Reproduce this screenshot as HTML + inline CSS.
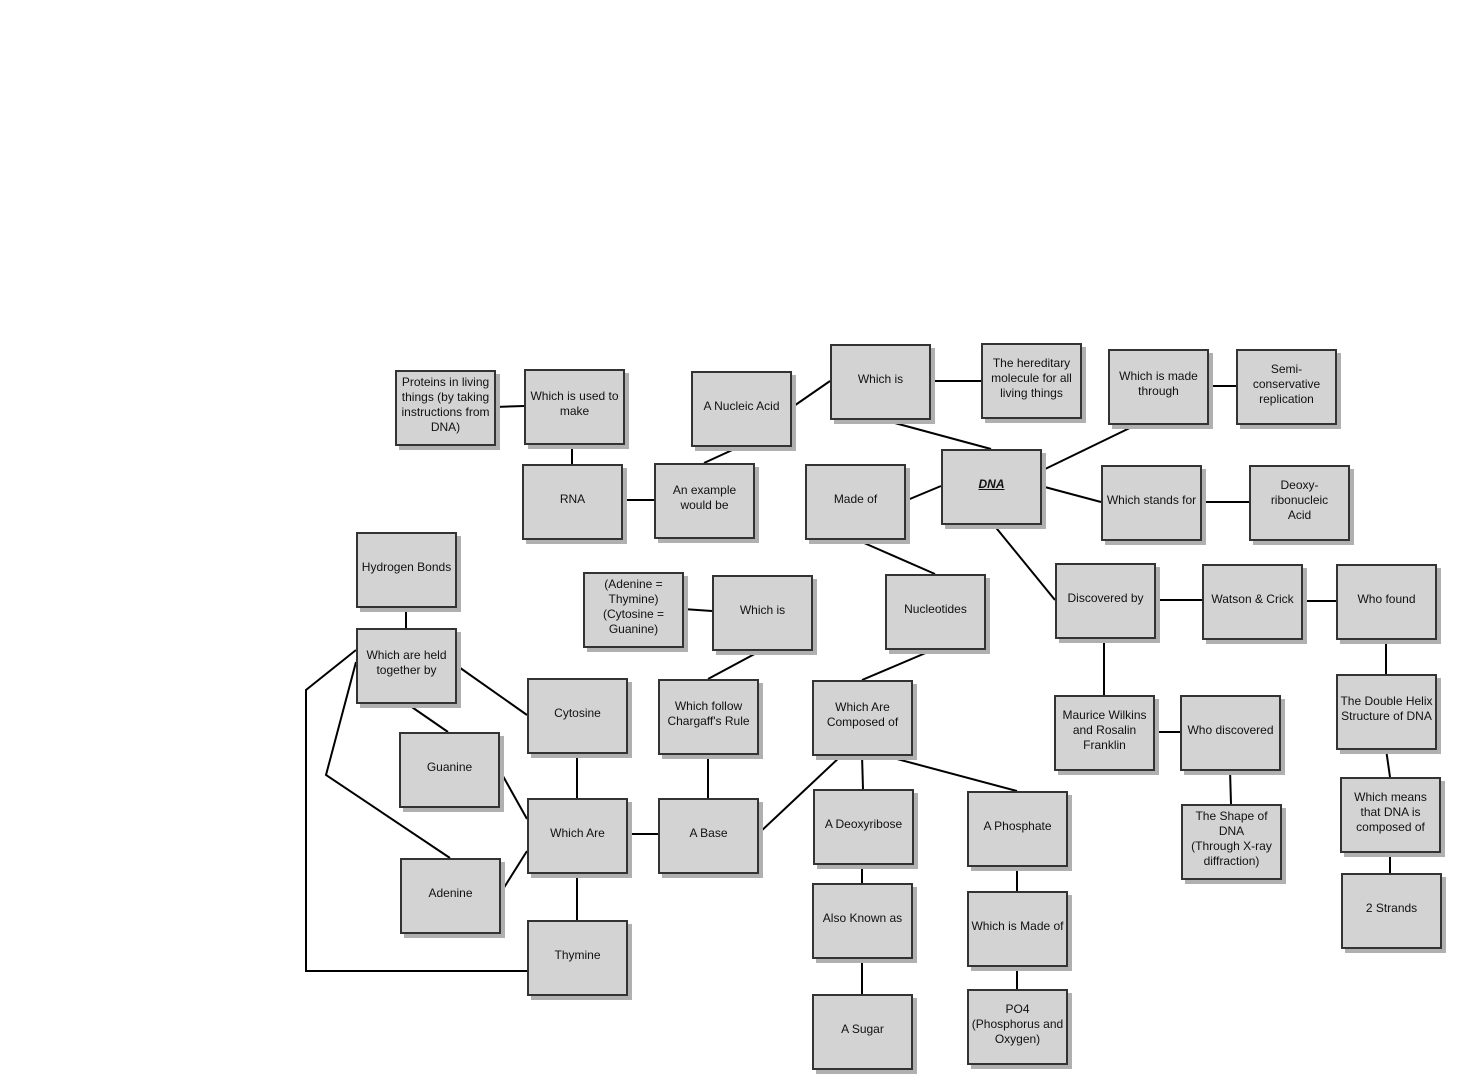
<!DOCTYPE html>
<html><head><meta charset="utf-8"><style>
html,body{margin:0;padding:0;background:#fff;}
body{width:1461px;height:1089px;position:relative;overflow:hidden;font-family:"Liberation Sans",Arial,sans-serif;}
.b{position:absolute;width:89px;height:72px;padding:0 4px;background:#d3d3d3;border:2px solid #333;box-shadow:4px 4px 0 #b0b0b0;display:flex;align-items:center;justify-content:center;text-align:center;font-size:12px;line-height:15px;color:#111;box-sizing:content-box;}
.b.w{padding:0 1px;width:95px;}
.b span{display:block;margin-top:-6px;}
svg{position:absolute;left:0;top:0;}
</style></head><body>
<svg width="1461" height="1089" stroke="#000" stroke-width="2" fill="none">
<line x1="495" y1="407" x2="524" y2="406"/>
<line x1="572" y1="445" x2="572" y2="464"/>
<line x1="622" y1="500" x2="654" y2="500"/>
<line x1="704" y1="463" x2="741" y2="446"/>
<line x1="791" y1="408" x2="830" y2="381"/>
<line x1="930" y1="381" x2="981" y2="381"/>
<line x1="880" y1="419" x2="991" y2="449"/>
<line x1="1041" y1="471" x2="1138" y2="424"/>
<line x1="1208" y1="386" x2="1236" y2="386"/>
<line x1="1041" y1="486" x2="1101" y2="502"/>
<line x1="1201" y1="502" x2="1249" y2="502"/>
<line x1="905" y1="501" x2="941" y2="486"/>
<line x1="855" y1="539" x2="935" y2="574"/>
<line x1="993" y1="524" x2="1055" y2="600"/>
<line x1="1155" y1="600" x2="1202" y2="600"/>
<line x1="1302" y1="601" x2="1336" y2="601"/>
<line x1="1386" y1="639" x2="1386" y2="674"/>
<line x1="1386" y1="749" x2="1390" y2="777"/>
<line x1="1390" y1="852" x2="1390" y2="873"/>
<line x1="1104" y1="638" x2="1104" y2="695"/>
<line x1="1154" y1="732" x2="1180" y2="732"/>
<line x1="1230" y1="770" x2="1231" y2="804"/>
<line x1="935" y1="649" x2="862" y2="680"/>
<line x1="862" y1="755" x2="863" y2="789"/>
<line x1="882" y1="755" x2="1017" y2="791"/>
<line x1="842" y1="755" x2="758" y2="834"/>
<line x1="862" y1="864" x2="862" y2="883"/>
<line x1="862" y1="958" x2="862" y2="994"/>
<line x1="1017" y1="866" x2="1017" y2="891"/>
<line x1="1017" y1="966" x2="1017" y2="989"/>
<line x1="762" y1="650" x2="708" y2="679"/>
<line x1="708" y1="754" x2="708" y2="798"/>
<line x1="683" y1="609" x2="712" y2="611"/>
<line x1="627" y1="834" x2="658" y2="834"/>
<line x1="577" y1="753" x2="577" y2="798"/>
<line x1="577" y1="873" x2="577" y2="920"/>
<line x1="406" y1="607" x2="406" y2="628"/>
<line x1="456" y1="665" x2="527" y2="715"/>
<line x1="406" y1="703" x2="448" y2="732"/>
<line x1="499" y1="769" x2="527" y2="819"/>
<line x1="500" y1="894" x2="527" y2="851"/>
<polyline points="356,650 306,690 306,971 527,971"/>
<polyline points="356,662 326,775 450,858"/>
</svg>
<div class="b" style="left:395px;top:370px"><span>Proteins in living things (by taking instructions from DNA)</span></div>
<div class="b" style="left:524px;top:369px"><span>Which is used to make</span></div>
<div class="b" style="left:691px;top:371px"><span>A Nucleic Acid</span></div>
<div class="b" style="left:830px;top:344px"><span>Which is</span></div>
<div class="b" style="left:981px;top:343px"><span>The hereditary molecule for all living things</span></div>
<div class="b" style="left:1108px;top:349px"><span>Which is made through</span></div>
<div class="b" style="left:1236px;top:349px"><span>Semi-conservative replication</span></div>
<div class="b" style="left:522px;top:464px"><span>RNA</span></div>
<div class="b" style="left:654px;top:463px"><span>An example would be</span></div>
<div class="b" style="left:805px;top:464px"><span>Made of</span></div>
<div class="b" style="left:941px;top:449px"><span style="font-weight:bold;font-style:italic;text-decoration:underline">DNA</span></div>
<div class="b w" style="left:1101px;top:465px"><span>Which stands for</span></div>
<div class="b" style="left:1249px;top:465px"><span>Deoxy-<br>ribonucleic<br>Acid</span></div>
<div class="b w" style="left:356px;top:532px"><span>Hydrogen Bonds</span></div>
<div class="b" style="left:583px;top:572px"><span>(Adenine = Thymine) (Cytosine = Guanine)</span></div>
<div class="b" style="left:712px;top:575px"><span>Which is</span></div>
<div class="b" style="left:885px;top:574px"><span>Nucleotides</span></div>
<div class="b" style="left:1055px;top:563px"><span>Discovered by</span></div>
<div class="b w" style="left:1202px;top:564px"><span>Watson &amp; Crick</span></div>
<div class="b" style="left:1336px;top:564px"><span>Who found</span></div>
<div class="b" style="left:356px;top:628px"><span>Which are held together by</span></div>
<div class="b" style="left:527px;top:678px"><span>Cytosine</span></div>
<div class="b" style="left:658px;top:679px"><span>Which follow Chargaff's Rule</span></div>
<div class="b" style="left:812px;top:680px"><span>Which Are Composed of</span></div>
<div class="b w" style="left:1336px;top:674px"><span>The Double Helix Structure of DNA</span></div>
<div class="b" style="left:1054px;top:695px"><span>Maurice Wilkins and Rosalin Franklin</span></div>
<div class="b w" style="left:1180px;top:695px"><span>Who discovered</span></div>
<div class="b" style="left:399px;top:732px"><span>Guanine</span></div>
<div class="b" style="left:527px;top:798px"><span>Which Are</span></div>
<div class="b" style="left:658px;top:798px"><span>A Base</span></div>
<div class="b w" style="left:813px;top:789px"><span>A Deoxyribose</span></div>
<div class="b" style="left:967px;top:791px"><span>A Phosphate</span></div>
<div class="b" style="left:1340px;top:777px;padding:0 10px;width:77px"><span>Which means that DNA is composed of</span></div>
<div class="b" style="left:1181px;top:804px"><span>The Shape of DNA<br>(Through X-ray diffraction)</span></div>
<div class="b" style="left:400px;top:858px"><span>Adenine</span></div>
<div class="b w" style="left:812px;top:883px"><span>Also Known as</span></div>
<div class="b w" style="left:967px;top:891px"><span>Which is Made of</span></div>
<div class="b" style="left:1341px;top:873px"><span>2 Strands</span></div>
<div class="b" style="left:527px;top:920px"><span>Thymine</span></div>
<div class="b" style="left:812px;top:994px"><span>A Sugar</span></div>
<div class="b w" style="left:967px;top:989px"><span>PO4<br>(Phosphorus and Oxygen)</span></div>
</body></html>
